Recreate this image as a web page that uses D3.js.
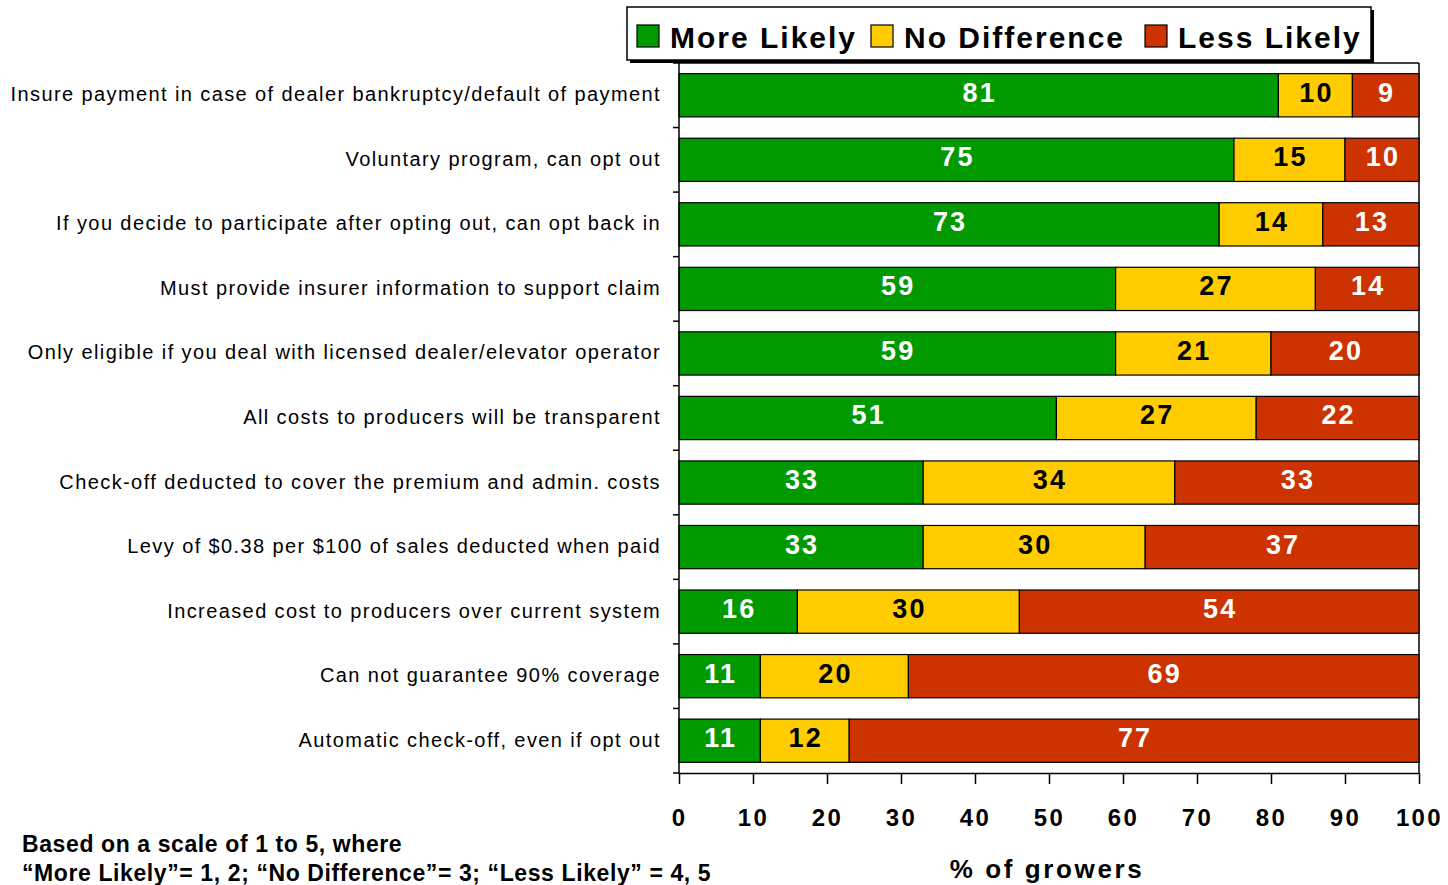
<!DOCTYPE html>
<html><head><meta charset="utf-8">
<script src="https://cdn.jsdelivr.net/npm/d3@7"></script>
<style>body{margin:0;background:#fff}svg{display:block}text{font-family:"Liberation Sans",Arial,sans-serif}</style>
</head><body>
<script>
const categories = [
 "Insure payment in case of dealer bankruptcy/default of payment",
 "Voluntary program, can opt out",
 "If you decide to participate after opting out, can opt back in",
 "Must provide insurer information to support claim",
 "Only eligible if you deal with licensed dealer/elevator operator",
 "All costs to producers will be transparent",
 "Check-off deducted to cover the premium and admin. costs",
 "Levy of $0.38 per $100 of sales deducted when paid",
 "Increased cost to producers over current system",
 "Can not guarantee 90% coverage",
 "Automatic check-off, even if opt out"
];
const moreLikely   = [81,75,73,59,59,51,33,33,16,11,11];
const noDifference = [10,15,14,27,21,27,34,30,30,20,12];
const lessLikely   = [ 9,10,13,14,20,22,33,37,54,69,77];
const seriesNames = ["More Likely","No Difference","Less Likely"];
const seriesColors = ["#009900","#FFCC00","#CC3300"];
const labelColors = ["#ffffff","#000000","#ffffff"];
const xTicks = [0,10,20,30,40,50,60,70,80,90,100];

const W=1448,H=885;
const svg=d3.select("body").append("svg").attr("width",W).attr("height",H);
const L=679,R=1419,T=63,B=773;
const x=d3.scaleLinear().domain([0,100]).range([L,R]);
const y=d3.scaleBand().domain(categories).range([T,B]).paddingInner(0.33).paddingOuter(0.165);
const yb=d3.scaleBand().domain(categories).range([T,B]);

const rows=categories.map((c,i)=>({cat:c,vals:[moreLikely[i],noDifference[i],lessLikely[i]]}));

// frame top/right
svg.append("line").attr("x1",L).attr("x2",R).attr("y1",T).attr("y2",T).attr("stroke","#000").attr("stroke-width",1.5);
svg.append("line").attr("x1",R).attr("x2",R).attr("y1",T).attr("y2",B).attr("stroke","#000").attr("stroke-width",1.5);

rows.forEach(r=>{
  let acc=0;
  r.vals.forEach((v,k)=>{
    const x0=x(acc),x1=x(acc+v);
    svg.append("rect").attr("x",x0).attr("y",y(r.cat)).attr("width",x1-x0).attr("height",y.bandwidth())
      .attr("fill",seriesColors[k]).attr("stroke","#000").attr("stroke-width",1.2);
    svg.append("text").attr("x",(x0+x1)/2+1).attr("y",y(r.cat)+y.bandwidth()/2-3).attr("dy","0.35em")
      .attr("text-anchor","middle").attr("font-size",27).attr("font-weight","bold").attr("letter-spacing","2.2px")
      .attr("fill",labelColors[k]).text(v);
    acc+=v;
  });
});

// y axis
const ya=svg.append("g");
ya.append("line").attr("x1",L).attr("x2",L).attr("y1",T).attr("y2",B+1).attr("stroke","#000").attr("stroke-width",1.5);
const bounds=categories.map(c=>yb(c)).concat([B]);
bounds.forEach(b=>ya.append("line").attr("x1",L-6).attr("x2",L).attr("y1",b).attr("y2",b).attr("stroke","#000").attr("stroke-width",1.5));
categories.forEach(c=>{
  ya.append("text").attr("x",661).attr("y",yb(c)+yb.bandwidth()/2-1).attr("dy","0.35em").attr("text-anchor","end")
    .attr("font-size",20).attr("letter-spacing","1.4px").attr("fill","#000").text(c);
});

// x axis
const xa=svg.append("g").attr("transform",`translate(0,${B})`)
  .call(d3.axisBottom(x).tickValues(xTicks).tickSize(11).tickSizeOuter(0).tickPadding(25));
xa.select(".domain").attr("stroke-width",1.5);
xa.selectAll(".tick line").attr("stroke-width",1.5);
xa.selectAll(".tick text").attr("font-size",24).attr("font-weight","bold").attr("letter-spacing","2.4px")
  .attr("font-family","Liberation Sans, Arial, sans-serif").attr("fill","#000");

svg.append("text").attr("x",1047).attr("y",878).attr("text-anchor","middle").attr("font-size",26)
  .attr("font-weight","bold").attr("letter-spacing","2.6px").text("% of growers");

// notes
svg.append("text").attr("x",22).attr("y",852).attr("font-size",23).attr("font-weight","bold").attr("letter-spacing","0.6px").text("Based on a scale of 1 to 5, where");
svg.append("text").attr("x",22).attr("y",881).attr("font-size",23).attr("font-weight","bold").attr("letter-spacing","0.6px").text("\u201cMore Likely\u201d= 1, 2; \u201cNo Difference\u201d= 3; \u201cLess Likely\u201d = 4, 5");

// legend
const lg=svg.append("g");
lg.append("rect").attr("x",630).attr("y",10).attr("width",744).attr("height",53).attr("fill","#000");
lg.append("rect").attr("x",627).attr("y",7).attr("width",744).attr("height",53).attr("fill","#fff").attr("stroke","#000").attr("stroke-width",1.5);
const lx=[637,871,1145];
seriesNames.forEach((n,k)=>{
  lg.append("rect").attr("x",lx[k]).attr("y",25).attr("width",22).attr("height",22).attr("fill",seriesColors[k]).attr("stroke","#000").attr("stroke-width",1.2);
  lg.append("text").attr("x",lx[k]+33).attr("y",37).attr("dy","0.35em").attr("font-size",30).attr("font-weight","bold")
    .attr("letter-spacing","2px").text(n);
});
</script>
</body></html>
